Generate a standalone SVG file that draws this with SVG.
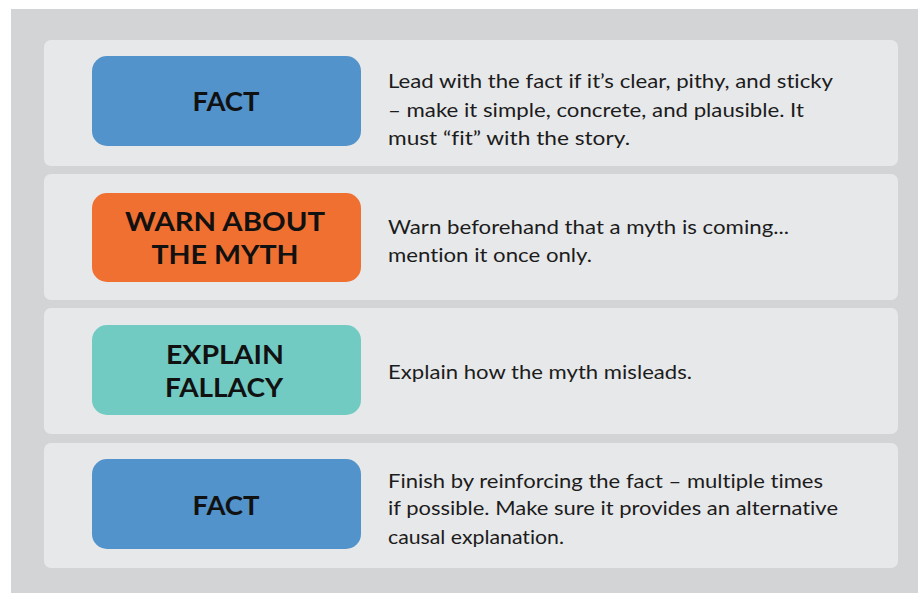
<svg xmlns="http://www.w3.org/2000/svg" width="918" height="593" viewBox="0 0 918 593">
<style>
.row{fill:#e7e8ea}
.box{stroke:none}
.t{font-family:Lato,"Open Sans","Liberation Sans",sans-serif;font-weight:700;font-size:26px;fill:#111;text-anchor:middle}
.b{font-family:Lato,"Open Sans","Liberation Sans",sans-serif;font-size:20px;fill:#1c1c1c;font-variant-ligatures:none}
</style>
<rect x="0" y="0" width="918" height="593" fill="#ffffff"/>
<rect x="11" y="9" width="907" height="584" fill="#d3d4d6"/>
<g id="row1">
<rect class="row" x="44" y="40" width="854" height="126" rx="7"/>
<rect class="box" x="92" y="56" width="269" height="90" rx="15" fill="#5393cb"/>
<text class="t" x="226" y="111" textLength="67" lengthAdjust="spacingAndGlyphs">FACT</text>
<text class="b" x="388" y="87.5" textLength="445" lengthAdjust="spacingAndGlyphs">Lead with the fact if it’s clear, pithy, and sticky</text>
<text class="b" x="388" y="116.5" textLength="416" lengthAdjust="spacingAndGlyphs">– make it simple, concrete, and plausible. It</text>
<text class="b" x="388" y="145" textLength="242" lengthAdjust="spacingAndGlyphs">must “fit” with the story.</text>
</g>
<g id="row2">
<rect class="row" x="44" y="174" width="854" height="126" rx="7"/>
<rect class="box" x="92" y="193" width="269" height="89" rx="15" fill="#f07031"/>
<text class="t" x="225" y="231" textLength="200" lengthAdjust="spacingAndGlyphs">WARN ABOUT</text>
<text class="t" x="225" y="263.5" textLength="147" lengthAdjust="spacingAndGlyphs">THE MYTH</text>
<text class="b" x="388" y="233.5" textLength="401" lengthAdjust="spacingAndGlyphs">Warn beforehand that a myth is coming...</text>
<text class="b" x="388" y="262" textLength="204" lengthAdjust="spacingAndGlyphs">mention it once only.</text>
</g>
<g id="row3">
<rect class="row" x="44" y="308" width="854" height="126" rx="7"/>
<rect class="box" x="92" y="325" width="269" height="90" rx="15" fill="#72cbc2"/>
<text class="t" x="225" y="364" textLength="118" lengthAdjust="spacingAndGlyphs">EXPLAIN</text>
<text class="t" x="224" y="396.5" textLength="118" lengthAdjust="spacingAndGlyphs">FALLACY</text>
<text class="b" x="388" y="378.5" textLength="304" lengthAdjust="spacingAndGlyphs">Explain how the myth misleads.</text>
</g>
<g id="row4">
<rect class="row" x="44" y="443" width="854" height="125" rx="7"/>
<rect class="box" x="92" y="459" width="269" height="90" rx="15" fill="#5393cb"/>
<text class="t" x="226" y="515" textLength="67" lengthAdjust="spacingAndGlyphs">FACT</text>
<text class="b" x="388" y="487.5" textLength="435" lengthAdjust="spacingAndGlyphs">Finish by reinforcing the fact – multiple times</text>
<text class="b" x="388" y="515" textLength="450" lengthAdjust="spacingAndGlyphs">if possible. Make sure it provides an alternative</text>
<text class="b" x="388" y="543.5" textLength="176" lengthAdjust="spacingAndGlyphs">causal explanation.</text>
</g>
<g id="connectors"></g>
</svg>
